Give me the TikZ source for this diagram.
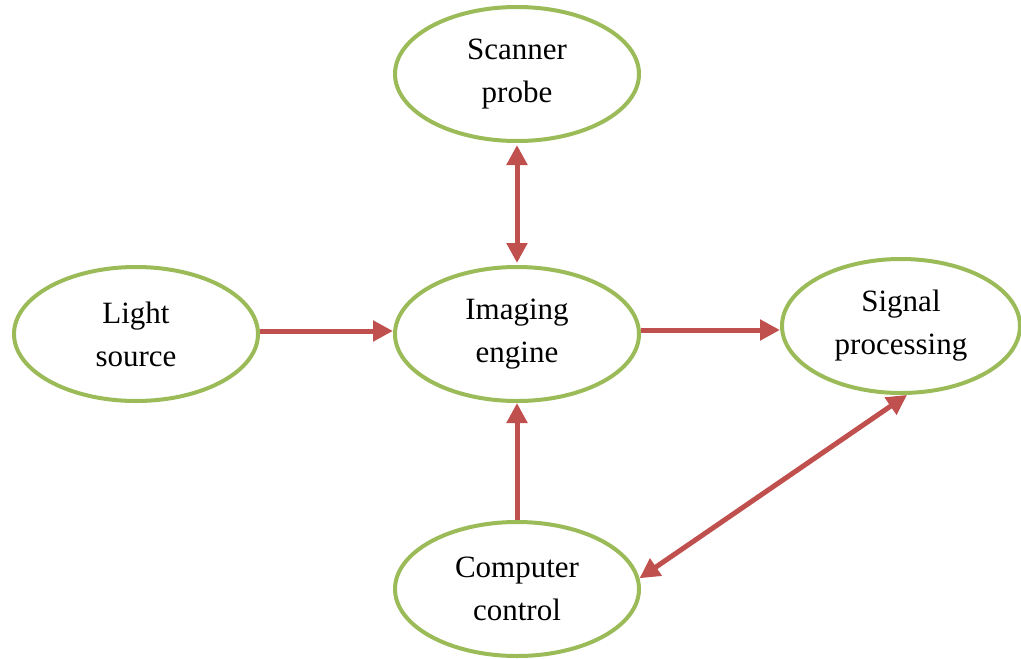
\documentclass[tikz,border=0pt]{standalone}
\usepackage{fontspec}
\setmainfont{Liberation Serif}
\usetikzlibrary{shapes.geometric,arrows.meta}
\definecolor{ringgreen}{HTML}{9BBB59}
\definecolor{linkred}{HTML}{C0504D}
\tikzset{
  unit/.style={ellipse, draw=ringgreen, line width=4pt, fill=white,
    minimum width=244pt, minimum height=134pt, inner sep=0pt,
    align=center, font=\fontsize{31}{43}\selectfont},
  link/.style={draw=linkred, line width=5pt,
    -{Triangle[length=20pt,width=20pt]}},
  duplex/.style={link, {Triangle[length=20pt,width=20pt]}-{Triangle[length=20pt,width=20pt]}}
}
\begin{document}
\begin{tikzpicture}[x=1pt,y=-1pt]
  \useasboundingbox (0,0) rectangle (1021,659);
  % the five blocks of the system
  \node[unit] (scanner)  at (517,74)  {Scanner\\probe};
  \node[unit] (light)    at (136,334) {Light\\source};
  \node[unit] (imaging)  at (517,334) {Imaging\\engine};
  \node[unit, minimum width=238pt] (signal) at (901,326) {Signal\\processing};
  \node[unit] (computer) at (517,589) {Computer\\control};
  % signal flow between blocks
  \draw[link] (light.east |- 0,331) -- (imaging.west |- 0,331);
  \draw[link] (imaging.east |- 0,330) -- (signal.west |- 0,330);
  \draw[duplex, shorten <=2pt, shorten >=2pt] (scanner.south) -- (imaging.north);
  \draw[link] (computer.north) -- (imaging.south);
  \draw[duplex] (computer.5) -- (signal.-85);
\end{tikzpicture}
\end{document}
